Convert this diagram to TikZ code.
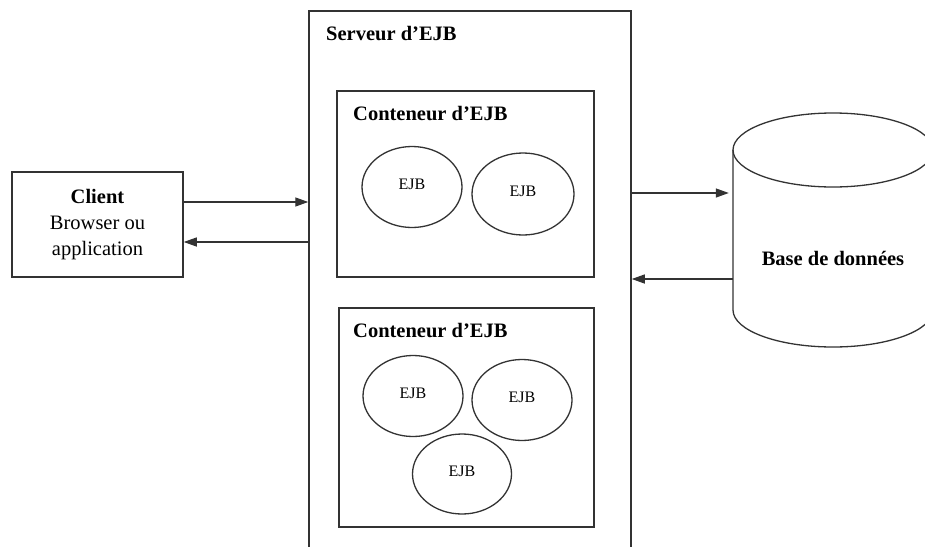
\documentclass[tikz,border=0pt]{standalone}
\usepackage{fontspec}
\setmainfont{Liberation Serif}
\usetikzlibrary{arrows.meta,shapes.geometric}
\definecolor{ink}{HTML}{333333}
\begin{document}
\begin{tikzpicture}[x=1pt,y=-1pt,
  box/.style={draw=ink,line width=1.5pt,rectangle,inner sep=0pt},
  bean/.style={draw=ink,line width=1.3pt,ellipse,inner sep=0pt,minimum width=100pt,minimum height=81pt,font=\fontsize{16}{18}\selectfont},
  ttl/.style={anchor=base west,inner sep=0pt,font=\fontsize{20.5}{22}\selectfont\bfseries},
  flow/.style={draw=ink,line width=1.3pt,-{Triangle[length=13pt,width=9pt]}}]
\useasboundingbox (0,0) rectangle (925,546);
\clip (0,0) rectangle (925,546);
\fill[white] (0,0) rectangle (925,546);
% client
\node[box,minimum width=171pt,minimum height=105pt,align=center,
  font=\fontsize{20.5}{26}\selectfont] (client) at (97.5,224.5)
  {\textbf{Client}\\Browser ou\\application};
% server
\node[box,minimum width=322pt,minimum height=550pt] (server) at (470,286) {};
\node[ttl] (stitle) at (326,40) {Serveur d'EJB};
% containers
\node[box,minimum width=257pt,minimum height=186pt] (c1) at (465.5,184) {};
\node[ttl] (c1title) at (353,120) {Conteneur d'EJB};
\node[box,minimum width=255pt,minimum height=219pt] (c2) at (466.5,417.5) {};
\node[ttl] (c2title) at (353,337) {Conteneur d'EJB};
% EJBs
\node[bean] (e1) at (412,187) {\raisebox{6pt}{EJB}};
\node[bean,minimum width=102pt,minimum height=82pt] (e2) at (523,194) {\raisebox{6pt}{EJB}};
\node[bean] (e3) at (413,396) {\raisebox{6pt}{EJB}};
\node[bean] (e4) at (522,400) {\raisebox{6pt}{EJB}};
\node[bean,minimum width=99pt,minimum height=80pt] (e5) at (462,474) {\raisebox{6pt}{EJB}};
% database cylinder
\draw[ink,line width=1.3pt,fill=white] (733,150) -- (733,310) arc[start angle=180,end angle=0,x radius=100,y radius=37] -- (933,150);
\draw[ink,line width=1.3pt] (833,150) ellipse[x radius=100,y radius=37];
\node[minimum width=200pt,minimum height=234pt,inner sep=0pt] (db) at (833,230) {};
\node[font=\fontsize{20.5}{22}\selectfont\bfseries] (dbl) at (833,258) {Base de données};
% connectors
\draw[flow] ([yshift=22.5pt]client.east) -- ([yshift=22.5pt]client.east -| server.west);
\draw[flow] ([yshift=-17.5pt]client.east -| server.west) -- ([yshift=-17.5pt]client.east);
\draw[flow] ([yshift=37pt]db.west -| server.east) -- ([xshift=-4pt,yshift=37pt]db.west);
\draw[flow] ([yshift=-49pt]db.west) -- ([yshift=-49pt]db.west -| server.east);
\end{tikzpicture}
\end{document}
